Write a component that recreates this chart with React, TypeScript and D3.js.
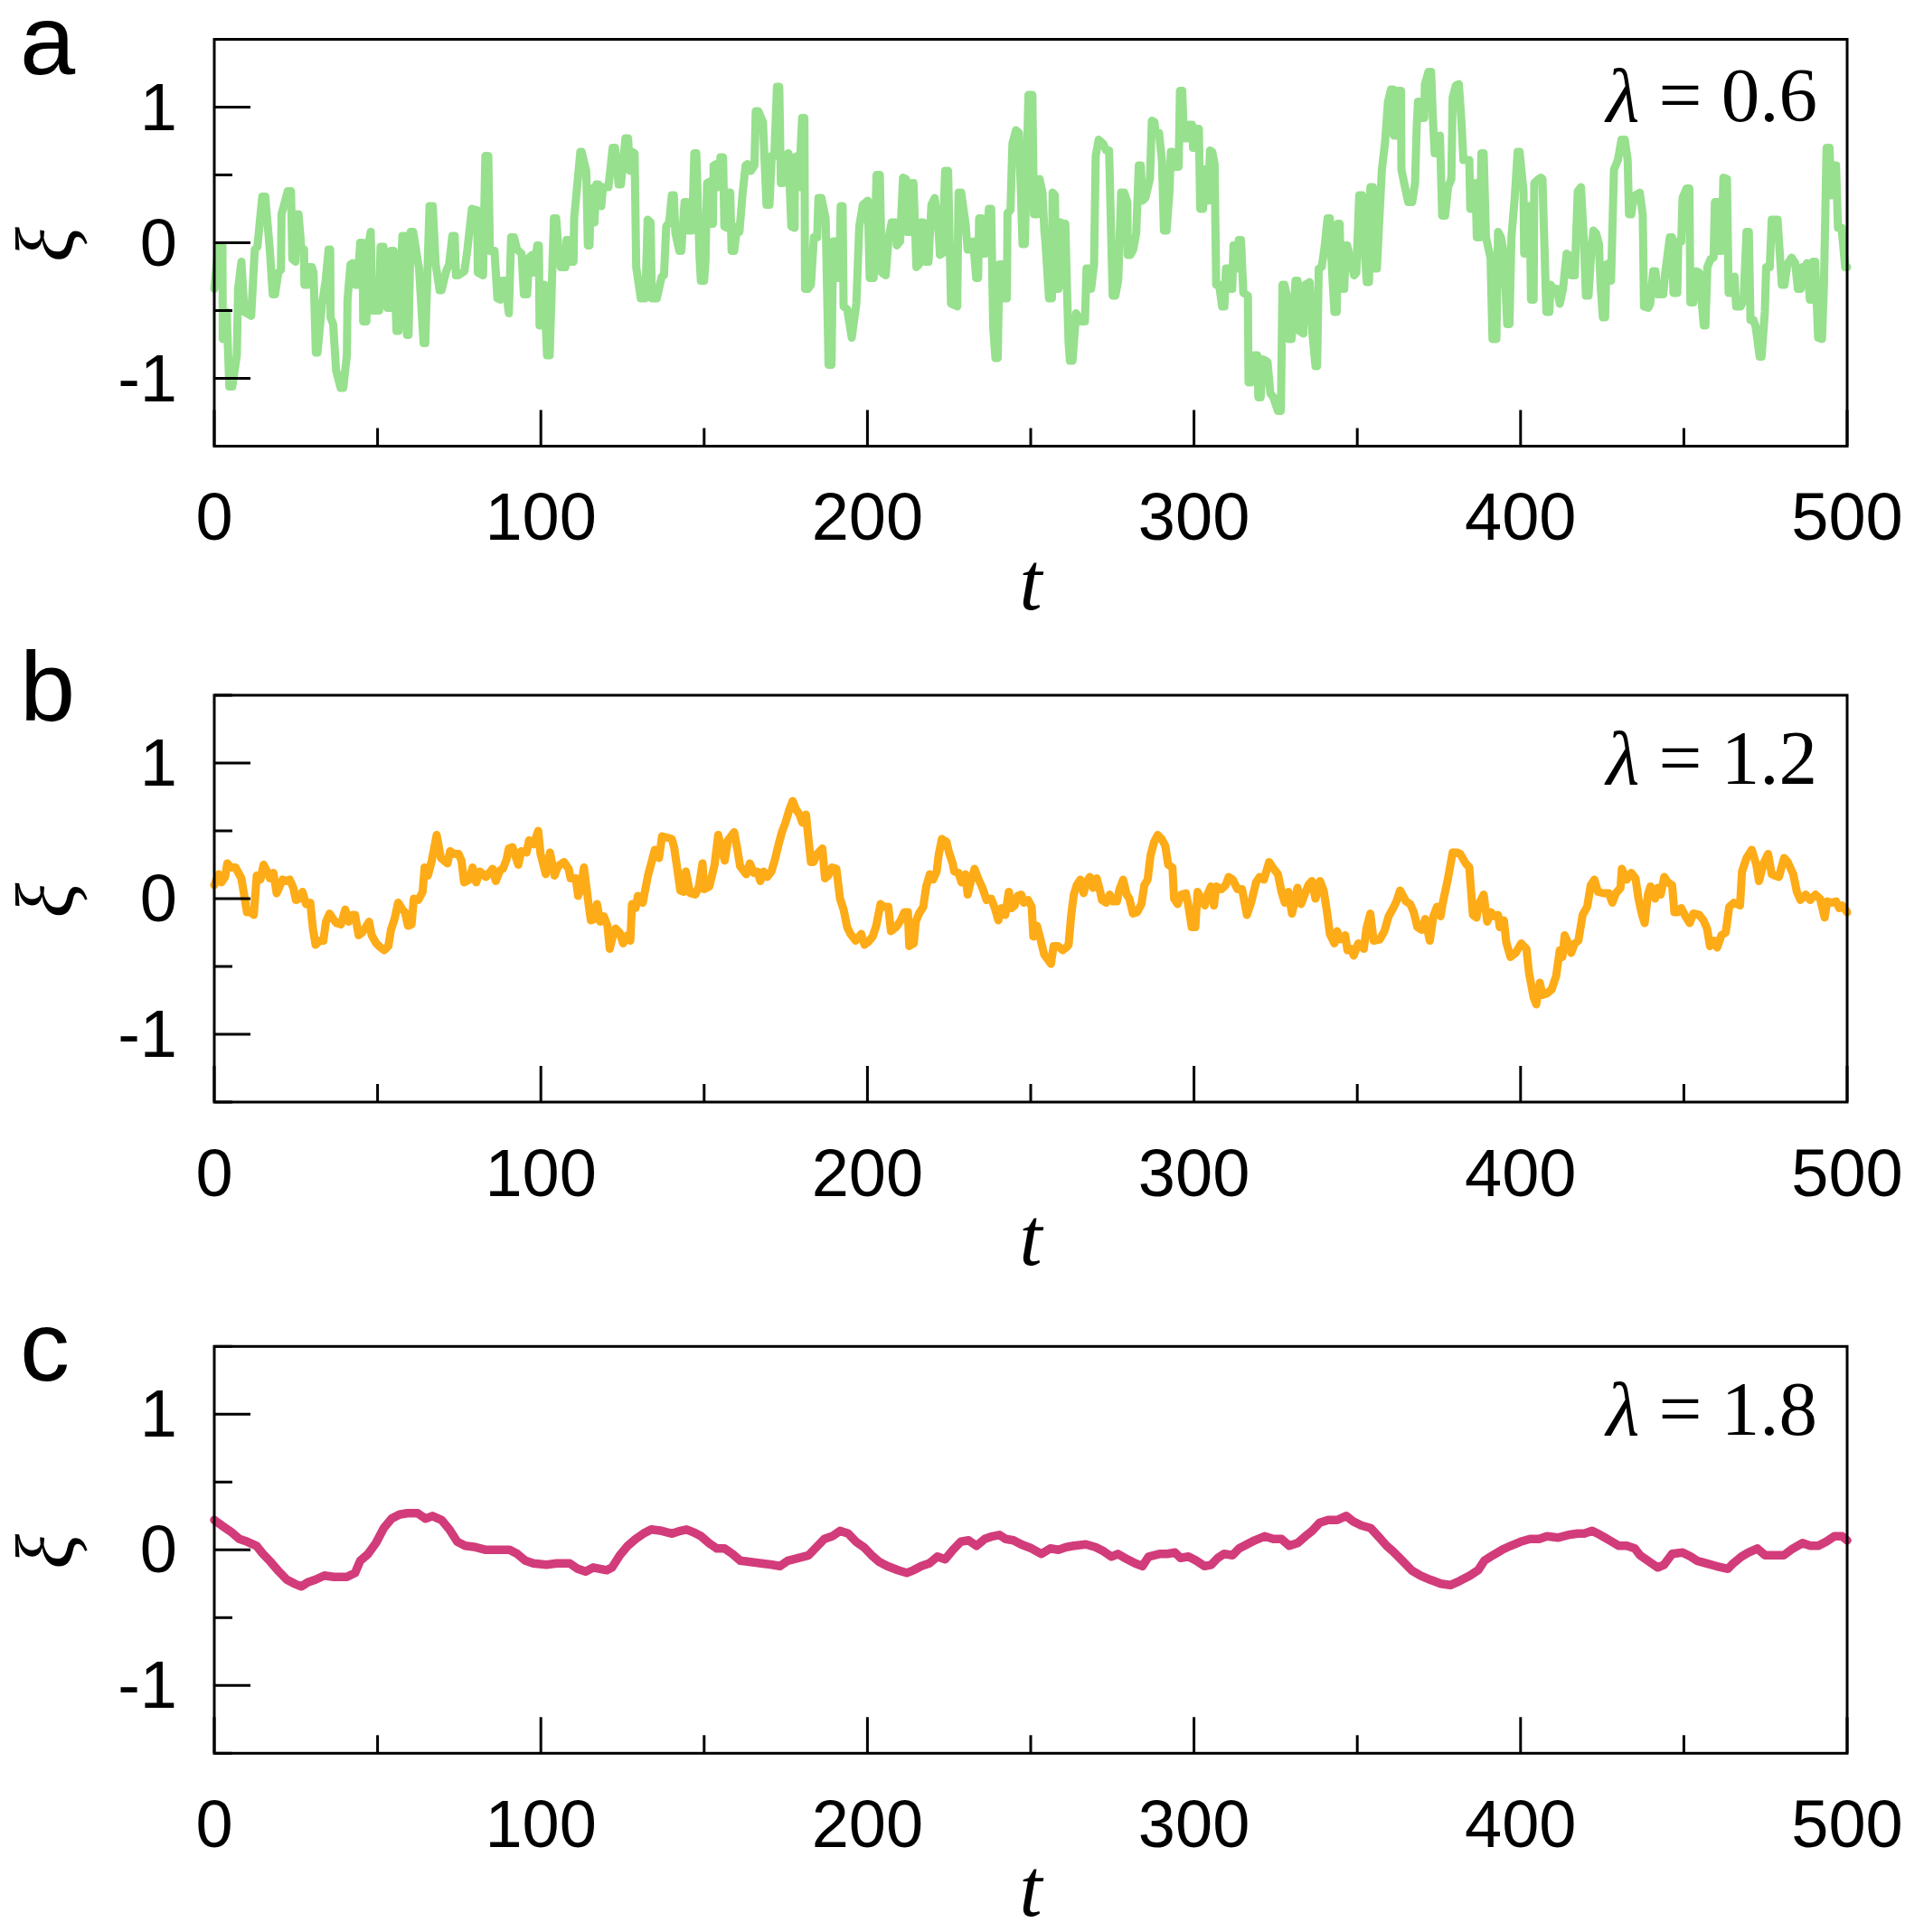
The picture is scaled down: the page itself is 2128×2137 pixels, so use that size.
import React from "react";
import * as d3 from "d3";

// ---------- layout ----------
const W = 2128;
const H = 2137;
const X0 = 237;
const X1 = 2043;
const PANEL_H = 450;
const PANEL_TOPS = [43.5, 769, 1489.3];

// ---------- axis values ----------
const tDomain: [number, number] = [0, 500];
const xiDomain: [number, number] = [-1.5, 1.5];
const tMajor = [0, 100, 200, 300, 400, 500];
const tMinor = [50, 150, 250, 350, 450];
const xiMajor = [-1, 0, 1];
const xiMinor = [-1.5, -0.5, 0.5, 1.5];
const panelLetters = ["a", "b", "c"];
const lambdas = ["0.6", "1.2", "1.8"];
const colors = ["#97e08e", "#fdab17", "#d23c7a"];

// ---------- data: [t, xi] ----------
const seriesA: [number, number][] = [
  [0,-0.34],[1.3,-0.02],[2.5,-0.02],[2.6,-0.71],[3.2,-0.71],[3.8,-0.51],[4.6,-1.06],[5.5,-1.06],[6.9,-0.83],[7.3,-0.34],
  [8.3,-0.14],[9.2,-0.51],[11.3,-0.54],[12.4,-0.05],[13.2,-0.03],[14.7,0.34],[15.6,0.34],[17,-0.05],[17.9,-0.38],[18.6,-0.38],
  [19.6,-0.22],[20.4,-0.2],[20.6,0.21],[22.5,0.38],[23.5,0.38],[23.9,-0.12],[24.9,-0.14],[25.3,0.21],[25.8,0.21],[26.7,-0.05],
  [27.5,-0.05],[27.6,-0.31],[28.6,-0.31],[29,-0.18],[29.9,-0.18],[30.4,-0.22],[31.1,-0.81],[31.6,-0.81],[33,-0.45],[34.1,-0.28],
  [35,-0.05],[35.5,-0.05],[35.6,-0.55],[36.4,-0.6],[37.3,-0.94],[38.7,-1.07],[39.5,-1.07],[40.6,-0.83],[40.8,-0.42],[41.7,-0.16],
  [42.4,-0.15],[43.3,-0.31],[43.8,-0.31],[44.7,0],[45.4,0],[45.6,-0.58],[46.6,-0.58],[47,-0.05],[47.9,0.08],[48.4,-0.5],
  [50.5,-0.5],[50.9,-0.03],[51.8,-0.03],[53,-0.48],[53.9,-0.48],[54.1,-0.06],[54.9,-0.06],[55.8,-0.65],[56.4,-0.65],[57.6,0.05],
  [58.3,0.05],[59,-0.68],[59.5,-0.68],[60.1,0.08],[60.9,0.08],[62.7,-0.19],[64.1,-0.74],[64.6,-0.74],[65.9,0.27],[66.9,0.27],
  [67.8,-0.16],[69,-0.35],[69.6,-0.35],[71,-0.21],[71.9,-0.16],[72.9,0.05],[73.6,0.05],[74,-0.24],[74.7,-0.24],[76.6,-0.21],
  [77.5,-0.05],[78.9,0.25],[80.5,0.24],[80.7,-0.22],[82.3,-0.24],[83,0.64],[83.9,0.64],[84.4,-0.06],[85.8,-0.06],[86.7,-0.41],
  [87.6,-0.42],[88.1,-0.28],[89,-0.28],[90.2,-0.52],[90.9,0.04],[91.8,0.04],[92.7,-0.05],[94.1,-0.08],[94.8,-0.38],[95.8,-0.38],
  [96.4,-0.11],[97.3,-0.09],[97.8,-0.22],[98.9,-0.02],[99.4,-0.02],[99.6,-0.61],[100.3,-0.61],[101,-0.31],[101.9,-0.83],[102.7,-0.83],
  [104,0.18],[104.7,0.18],[105.4,-0.05],[106.1,-0.18],[107.5,-0.18],[107.9,0.02],[108.6,0.02],[108.9,-0.14],[110,-0.14],[110.2,0.18],
  [112.1,0.67],[112.5,0.67],[113.9,0.53],[114.4,-0.02],[114.9,-0.02],[115.3,0.4],[116.1,0.4],[116.4,0.15],[117,0.43],[117.6,0.43],
  [118.5,0.27],[119,0.41],[120.7,0.41],[122,0.7],[122.7,0.7],[123.8,0.43],[124.5,0.43],[125.9,0.77],[126.7,0.77],[127.3,0.53],
  [128,0.67],[128.7,0.66],[129.2,-0.18],[130.6,-0.41],[132,-0.41],[132.7,0.17],[133.6,0.15],[134,-0.41],[135.5,-0.41],[137,-0.25],
  [137.7,-0.24],[138.4,0.12],[139.3,0.15],[140.1,0.35],[140.7,0.35],[141.2,0.07],[142.4,-0.06],[143,-0.06],[144,0.3],[144.7,0.3],
  [145.3,0.09],[146.3,0.09],[147,0.66],[147.6,0.66],[148.6,-0.11],[149,-0.28],[150,-0.28],[150.4,-0.14],[150.9,0.44],[151.6,0.45],
  [152,0.14],[152.7,0.14],[152.9,0.57],[153.6,0.58],[154.3,0.41],[155,0.63],[155.8,0.63],[156.2,0.12],[156.9,0.11],[157.3,0.37],
  [158,0.37],[158.4,-0.06],[159.2,-0.06],[160.1,0.12],[160.8,0.08],[161.8,0.37],[162.7,0.57],[163.3,0.58],[164.3,0.53],[165.4,0.57],
  [165.8,0.97],[166.6,0.97],[168,0.89],[169.1,0.28],[170,0.28],[170.7,0.64],[171.5,0.64],[172.3,1.15],[173,1.15],[173.5,0.44],
  [174.1,0.44],[174.9,0.64],[175.8,0.66],[176.7,0.12],[177.7,0.11],[177.8,0.63],[178.6,0.64],[179,0.41],[180,0.92],[180.7,0.92],
  [180.9,-0.34],[181.8,-0.34],[182.7,-0.31],[183.6,0.04],[184.6,0.04],[185,0.33],[185.9,0.33],[187.2,0.18],[188.1,-0.9],[189,-0.9],
  [189.5,0.01],[190.3,0.01],[191,-0.26],[191.4,-0.26],[191.8,0.27],[192.4,0.27],[192.7,-0.47],[193.8,-0.49],[195.2,-0.7],[196.6,-0.45],
  [197.5,0.12],[198.6,0.28],[200.1,0.31],[200.7,-0.26],[201.9,-0.26],[202.8,0.5],[203.8,0.5],[204.4,-0.22],[205.6,-0.24],[206.5,0.04],
  [207.4,0.15],[208.6,0.15],[209,-0.02],[210,0.01],[210.9,0.48],[211.8,0.47],[212.1,0.08],[213,0.08],[213.6,0.44],[214.1,0.44],
  [215,-0.18],[215.8,-0.16],[216.4,0.15],[217,0.15],[217.8,-0.14],[218.7,-0.14],[219.6,0.28],[220.6,0.33],[221.7,0.12],[222.2,-0.09],
  [222.9,-0.08],[223.8,0.53],[224.7,0.53],[225.6,-0.45],[227.5,-0.47],[227.9,0.37],[228.7,0.37],[230,0.15],[230.7,-0.05],[231.8,-0.05],
  [232.4,0.01],[233.3,-0.26],[233.9,-0.26],[234.2,0.18],[234.9,0.18],[235.3,-0.08],[236.1,-0.08],[237.2,0.25],[237.9,0.25],[238.5,-0.62],
  [239.2,-0.85],[239.9,-0.85],[240.4,-0.16],[241.3,-0.16],[241.8,-0.41],[242.7,-0.41],[242.9,0.22],[243.8,0.24],[244.4,0.73],[245.5,0.83],
  [246.4,0.81],[247.5,-0.01],[248.2,-0.01],[249.3,1.09],[250.5,1.09],[251,0.21],[251.9,0.21],[252.7,0.47],[253.6,0.37],[254.2,0.08],
  [254.5,0.01],[255.6,-0.41],[256.5,-0.41],[256.7,0.37],[257.4,0.35],[257.9,-0.34],[258.5,-0.34],[259.1,0.15],[259.7,-0.31],[260,0.14],
  [260.6,0.14],[261.1,-0.34],[261.6,-0.74],[262,-0.87],[262.8,-0.87],[263.9,-0.52],[265.3,-0.58],[266.6,-0.58],[267.1,-0.19],[268,-0.19],
  [268.5,-0.34],[269.4,-0.16],[269.9,0.64],[270.8,0.76],[272.2,0.73],[273.1,0.68],[274,0.68],[275.1,-0.39],[275.9,-0.39],[276.8,-0.28],
  [277.7,0.37],[278.6,0.37],[279.6,0.3],[279.7,-0.09],[280.5,-0.09],[281.4,-0.05],[282.3,0.07],[283.1,0.57],[283.7,0.57],[284.2,0.31],
  [285.1,0.33],[286.5,0.47],[287.1,0.9],[287.9,0.89],[288.3,0.8],[289.3,0.81],[290.2,0.6],[290.8,0.09],[291.6,0.09],[292.5,0.38],
  [292.9,0.67],[293.4,0.67],[294.1,0.56],[295.3,0.56],[295.7,1.12],[296.4,1.12],[296.9,0.77],[297.8,0.77],[298.5,0.87],[299.4,0.87],
  [299.7,0.7],[300.3,0.7],[300.8,0.84],[301.5,0.84],[301.9,0.25],[302.8,0.25],[303.1,0.54],[303.7,0.54],[304.3,0.31],[304.9,0.68],
  [305.6,0.67],[306.3,0.58],[306.8,-0.31],[307.7,-0.31],[308.6,-0.47],[309.3,-0.47],[309.8,-0.19],[310.5,-0.19],[310.8,-0.34],[311.7,-0.34],
  [312.1,-0.02],[312.8,-0.02],[313.2,-0.19],[313.7,0.02],[314.4,0.02],[315.1,-0.37],[316.5,-0.39],[316.7,-1.03],[317.4,-1.03],[318.5,-0.83],
  [319.4,-0.83],[319.7,-1.14],[320.4,-1.14],[321.1,-0.86],[322,-0.87],[322.5,-0.88],[323.4,-1.11],[324.3,-1.14],[325.7,-1.24],[326.6,-1.24],
  [327.1,-0.31],[327.7,-0.31],[328.9,-0.45],[329,-0.71],[329.9,-0.71],[331.1,-0.28],[331.7,-0.28],[332.2,-0.65],[333.5,-0.67],[334,-0.31],
  [335.4,-0.29],[336.3,-0.68],[337.2,-0.91],[337.7,-0.91],[338.2,-0.19],[339.1,-0.18],[340,-0.03],[340.9,0.18],[341.6,0.18],[342.3,-0.22],
  [343,-0.51],[343.7,-0.51],[344,0.14],[344.6,0.14],[345.1,-0.34],[346,-0.34],[346.5,-0.02],[346.9,-0.02],[347.9,-0.12],[349,-0.24],
  [349.7,-0.22],[350.6,0.35],[351.5,0.35],[352,0.04],[352.9,-0.29],[353.6,-0.29],[354,0.41],[354.8,0.41],[355.1,-0.19],[356,-0.19],
  [356.9,0.24],[357.5,0.53],[358.5,0.74],[359.4,1.04],[360.3,1.13],[361,1.13],[361.2,0.79],[362.2,0.79],[362.4,1.12],[363.4,1.12],
  [363.5,0.54],[364.7,0.4],[365.6,0.3],[366.8,0.3],[367.7,0.44],[368.2,0.86],[368.6,1.04],[369.5,1.04],[369.8,0.92],[370.5,0.92],
  [370.7,1.17],[371.8,1.26],[372.6,1.26],[373.2,0.89],[373.7,0.66],[374.6,0.66],[375.3,0.79],[376,0.2],[376.9,0.2],[377.8,0.41],
  [378.8,0.47],[379.2,1.07],[380.2,1.16],[381.1,1.17],[381.8,0.93],[382.5,0.61],[384.3,0.61],[384.6,0.25],[385.2,0.25],[386.2,0.44],
  [386.6,0.04],[387.6,0.04],[388,0.66],[388.7,0.66],[389.4,0.04],[390.8,-0.11],[391.4,-0.71],[392.6,-0.71],[393.1,0.08],[394,0.04],
  [394.9,-0.08],[395.9,-0.6],[396.6,-0.6],[397.2,0.04],[398.2,0.33],[399.1,0.67],[399.7,0.67],[400.9,0.38],[401.1,-0.08],[401.6,-0.08],
  [402.1,0.27],[402.8,0.27],[403.2,-0.42],[404,-0.42],[404.2,0.44],[405.5,0.47],[406.2,0.48],[406.7,0.47],[407.9,-0.51],[408.8,-0.51],
  [409.2,-0.31],[410.2,-0.34],[411.1,-0.34],[412,-0.45],[413,-0.34],[414.1,-0.08],[414.8,-0.09],[415.7,-0.24],[416.6,-0.24],[417.5,0.38],
  [418.5,0.41],[419.4,0.01],[420,-0.39],[420.8,-0.39],[421.7,-0.05],[422.3,0.09],[423.1,0.07],[424,-0.01],[424.5,-0.31],[425.2,-0.55],
  [425.9,-0.55],[426.3,-0.16],[427.2,-0.15],[427.7,-0.28],[428.6,0.54],[429.8,0.61],[430.9,0.76],[431.9,0.76],[432.8,0.61],[433.2,0.21],
  [433.9,0.21],[434.6,0.33],[435.1,0.35],[436.5,0.37],[437.4,0.21],[437.8,-0.47],[439.1,-0.48],[439.7,-0.45],[440.6,-0.21],[441.3,-0.21],
  [442,-0.38],[443.7,-0.38],[444.3,-0.22],[445.7,0.04],[446.4,0.04],[446.8,-0.37],[448,-0.37],[448.3,0.01],[449.2,0.01],[449.6,0.33],
  [450.8,0.4],[451.7,0.4],[452,-0.44],[452.9,-0.44],[453.8,-0.21],[454.7,-0.22],[456.1,-0.61],[456.6,-0.61],[457.2,-0.18],[458.2,-0.12],
  [459.1,-0.11],[459.5,0.3],[460.3,0.3],[460.9,-0.06],[461.6,-0.06],[462.1,0.48],[463.2,0.47],[463.7,-0.37],[464.6,-0.37],[465.5,-0.25],
  [466,-0.47],[467.4,-0.47],[468.3,-0.42],[469.2,0.08],[469.9,0.08],[470.4,-0.57],[471.3,-0.57],[472,-0.62],[473.2,-0.84],[473.8,-0.84],
  [474.8,-0.51],[475.2,-0.18],[476.3,-0.18],[476.9,0.17],[478.7,0.17],[480,-0.31],[480.8,-0.31],[481.7,-0.16],[483,-0.11],[484.1,-0.15],
  [484.9,-0.34],[485.8,-0.34],[486.3,-0.18],[486.8,-0.21],[487.7,-0.15],[488.6,-0.42],[489.3,-0.42],[489.5,-0.14],[490.2,-0.14],[491.1,-0.7],
  [492.3,-0.71],[492.9,-0.31],[493.7,0.7],[494.6,0.7],[495.1,0.35],[496,0.57],[496.6,0.57],[497.2,0.11],[498.3,0.11],[499.4,-0.18],[500,-0.18],
];

const seriesB: [number, number][] = [
  [0,0.1],[1.3,0.18],[2.2,0.12],[3.3,0.16],[4,0.26],[5.1,0.23],[6.5,0.23],[8.3,0.15],[10,-0.1],[11,-0.1],
  [12.1,-0.12],[13,0.17],[14.1,0.14],[15.1,0.25],[16.2,0.2],[17,0.15],[18.1,0.19],[19.1,0.04],[20.9,0.14],[22,0.13],
  [23.1,0.14],[24.2,0.08],[25,-0.01],[26.1,0],[27,0.05],[28.1,-0.04],[29.4,-0.03],[30.2,-0.22],[31,-0.34],[32.4,-0.31],
  [33.4,-0.31],[34.2,-0.17],[35.3,-0.11],[36.4,-0.15],[37.4,-0.18],[38.8,-0.19],[40.1,-0.08],[41.2,-0.17],[42.3,-0.12],[43.1,-0.12],
  [44.2,-0.27],[45.3,-0.25],[46.4,-0.21],[47.4,-0.17],[48.2,-0.27],[49.6,-0.33],[50.9,-0.36],[52,-0.38],[53.3,-0.35],[54.1,-0.23],
  [55.2,-0.15],[56.3,-0.03],[57.6,-0.08],[58.4,-0.1],[59.3,-0.2],[60.4,-0.19],[61.1,0],[62.5,-0.01],[63.8,0.05],[64.4,0.23],
  [65.4,0.17],[66.5,0.27],[68.1,0.47],[69.4,0.3],[71.4,0.26],[72.2,0.35],[73.5,0.33],[74.8,0.33],[75.7,0.28],[76.5,0.12],
  [78,0.14],[79.1,0.23],[80.2,0.12],[81.3,0.2],[83.2,0.16],[85.2,0.22],[86.2,0.13],[87.5,0.21],[88.4,0.22],[89.5,0.29],
  [90.2,0.37],[91.3,0.38],[93.1,0.25],[94,0.35],[95.6,0.34],[96.4,0.43],[97.8,0.4],[99.2,0.5],[99.9,0.33],[101.5,0.18],
  [102.8,0.34],[104.2,0.17],[105.3,0.24],[107.1,0.27],[108.5,0.22],[109.1,0.15],[110.7,0.15],[111.4,0.02],[112.3,0.08],[113.2,0.23],
  [114.5,-0.02],[115.3,-0.16],[116.4,-0.15],[117.2,-0.04],[118.2,-0.17],[119.3,-0.13],[120.4,-0.2],[121.1,-0.37],[122,-0.28],[122.9,-0.22],
  [124.1,-0.25],[125.2,-0.33],[126.5,-0.27],[127.4,-0.31],[127.9,-0.04],[129,-0.07],[129.7,0.02],[131.2,-0.03],[132.8,0.17],[133.8,0.26],
  [134.9,0.36],[136.2,0.3],[137.1,0.46],[138.7,0.45],[140.1,0.44],[140.8,0.38],[141.6,0.25],[142.7,0.06],[143.8,0.05],[144.4,0.2],
  [145.7,0.04],[147.3,0.03],[148.4,0.09],[149.5,0.26],[150,0.07],[151.6,0.09],[153.2,0.25],[154.3,0.47],[156.3,0.28],[157.3,0.43],
  [159.2,0.49],[160.2,0.36],[161,0.24],[162.9,0.18],[164,0.26],[165.2,0.19],[166.3,0.2],[167.2,0.13],[168.2,0.2],[169.3,0.16],
  [170.6,0.2],[171.7,0.29],[172.8,0.4],[173.8,0.49],[174.9,0.56],[176,0.65],[177.1,0.72],[178.1,0.66],[179.2,0.62],[180.1,0.56],
  [181.2,0.62],[181.9,0.45],[182.7,0.27],[183.5,0.27],[184.6,0.33],[186.2,0.37],[187,0.15],[188,0.17],[189.1,0.23],[190.5,0.22],
  [191.6,0],[192.7,-0.08],[193.8,-0.21],[194.8,-0.26],[196.4,-0.31],[198.1,-0.26],[199.1,-0.34],[200.2,-0.32],[201.6,-0.28],[202.7,-0.2],
  [204,-0.04],[205.1,-0.06],[206.4,-0.06],[207.2,-0.24],[208.8,-0.21],[210.2,-0.16],[211.3,-0.1],[212.4,-0.1],[212.8,-0.35],[214.2,-0.33],
  [214.8,-0.17],[215.8,-0.11],[217.1,-0.06],[218,0.09],[219.1,0.18],[220.1,0.14],[221.2,0.2],[221.8,0.32],[222.8,0.44],[224.2,0.42],
  [225,0.34],[226.1,0.26],[226.6,0.2],[227.9,0.19],[228.8,0.12],[230,0.18],[230.7,0.03],[231.8,0.14],[232.8,0.22],[233.9,0.15],
  [235.2,0.08],[236.5,-0.01],[237.9,0],[239,-0.07],[240.1,-0.16],[241.1,-0.07],[242.2,-0.12],[243.3,0.05],[244.1,-0.07],[245.1,-0.05],
  [246,0.02],[247.1,0.03],[247.9,-0.03],[249.2,-0.01],[250.3,-0.06],[250.8,-0.28],[251.9,-0.2],[253,-0.3],[254.1,-0.41],[256.2,-0.48],
  [257,-0.35],[258.4,-0.35],[259.8,-0.38],[260.9,-0.36],[261.6,-0.34],[262.4,-0.12],[263.2,0.03],[264.1,0.1],[265.2,0.14],[266.2,0.04],
  [267,0.12],[268.1,0.16],[269.1,0.08],[270.2,0.15],[271.3,0.05],[271.8,-0.01],[273.1,-0.03],[274.2,0.03],[275.1,-0.02],[276.4,-0.02],
  [277.2,0.07],[278.3,0.14],[279.4,0.03],[280.2,0],[281.3,-0.11],[282.6,-0.1],[283.9,-0.04],[284.8,0.1],[285.8,0.14],[286.7,0.32],
  [287.8,0.42],[288.9,0.47],[290.1,0.44],[291.2,0.39],[292.1,0.25],[293.4,0.23],[293.9,0],[295,-0.04],[296.1,0.03],[297.5,0.04],
  [298.2,-0.04],[299.3,-0.21],[300.4,-0.21],[301.1,0.05],[302.2,0],[303.3,-0.05],[304.1,0.03],[305.2,0.09],[306.1,-0.05],[306.8,0.09],
  [308.4,0.07],[309.7,0.1],[310.6,0.16],[311.9,0.14],[313.3,0.07],[314.7,0.07],[316.2,-0.12],[317.6,-0.02],[319,0.12],[320.1,0.16],
  [321.4,0.14],[323,0.27],[324.1,0.23],[325.7,0.18],[326.8,0.05],[327.8,-0.03],[328.9,0.05],[330,-0.11],[331,0],[331.7,0.08],
  [332.8,-0.04],[333.9,0.03],[335,0.1],[336.1,0.13],[337.2,0],[338.6,0.13],[339.7,0.06],[340.8,-0.11],[341.6,-0.26],[343,-0.33],
  [343.8,-0.24],[344.9,-0.3],[346.3,-0.27],[347,-0.38],[348.1,-0.37],[348.9,-0.42],[350.3,-0.33],[352,-0.37],[352.8,-0.22],[354,-0.11],
  [355,-0.31],[356.9,-0.3],[358.3,-0.24],[359.6,-0.13],[361,-0.07],[362,-0.02],[363.1,0.06],[364.9,-0.02],[366.2,-0.04],[367.3,-0.1],
  [368.4,-0.21],[369.7,-0.23],[370.8,-0.15],[372.2,-0.31],[373.3,-0.13],[374.4,-0.06],[375.5,-0.13],[376.1,-0.04],[377.7,0.14],[379.2,0.34],
  [380.5,0.34],[381.5,0.33],[383.2,0.26],[384.3,0.23],[385.4,-0.12],[386.5,-0.14],[387.2,-0.04],[388.7,0.03],[389.8,-0.17],[390.9,-0.1],
  [392,-0.13],[393.1,-0.12],[393.6,-0.21],[394.9,-0.16],[395.6,-0.32],[396.9,-0.43],[398.5,-0.4],[400.2,-0.33],[401.8,-0.37],[402.6,-0.55],
  [404,-0.73],[404.8,-0.78],[405.9,-0.62],[406.7,-0.71],[408,-0.7],[409.5,-0.67],[410.9,-0.57],[412,-0.38],[412.8,-0.43],[413.5,-0.27],
  [414.6,-0.33],[415.5,-0.4],[416.6,-0.33],[417.7,-0.31],[419,-0.12],[420.4,-0.06],[421.5,0.1],[422.6,0.14],[423.7,0.05],[425.4,0.04],
  [427,0.04],[428.1,-0.03],[429.2,0.04],[430.6,0.08],[431,0.22],[432.5,0.14],[433.9,0.19],[435.2,0.15],[436.1,0],[437.2,-0.12],
  [438,-0.18],[439,0.03],[439.8,0.09],[441.2,0],[442,0.08],[442.9,0.03],[444,0.16],[445.1,0.12],[446.4,0.1],[447.1,-0.1],
  [448.1,-0.1],[449.2,-0.07],[450.5,-0.13],[451.8,-0.18],[452.9,-0.11],[454.7,-0.12],[456,-0.16],[457.1,-0.22],[458,-0.35],[459.3,-0.31],
  [460.2,-0.36],[461.5,-0.27],[462.8,-0.25],[463.9,-0.06],[465.3,-0.03],[467.2,-0.05],[467.8,0.2],[469.2,0.3],[470.8,0.36],[472.2,0.25],
  [473,0.13],[474.4,0.26],[475.8,0.33],[476.9,0.18],[477.8,0.17],[479.1,0.16],[480.7,0.3],[481.8,0.27],[483.5,0.18],[484.6,0.05],
  [485.7,-0.01],[487.3,0.03],[488.7,-0.01],[490.3,0.03],[491.7,0],[493.1,-0.14],[493.9,-0.02],[495.3,-0.03],[496.6,-0.02],[497.6,-0.07],
  [498.5,-0.05],[500,-0.1],
];

const seriesC: [number, number][] = [
  [0,0.22],[2.9,0.17],[5.3,0.13],[7.7,0.08],[10.1,0.06],[12.9,0.03],[14.9,-0.03],[17.3,-0.09],[19.8,-0.16],[22.2,-0.22],
  [24.6,-0.25],[26.7,-0.27],[28.6,-0.24],[31,-0.22],[33.7,-0.19],[36.6,-0.2],[40.6,-0.2],[43.1,-0.17],[44.7,-0.08],[47.1,-0.03],
  [49.5,0.05],[51.9,0.16],[54.3,0.23],[56.7,0.26],[59.1,0.27],[62.3,0.27],[64.7,0.23],[66.8,0.25],[69.6,0.22],[72,0.15],
  [74.4,0.06],[76.8,0.03],[80,0.02],[83.2,0],[88,0],[90.4,0],[92.8,-0.03],[95.3,-0.08],[97.7,-0.1],[101.7,-0.11],
  [104.9,-0.1],[108.9,-0.1],[111.3,-0.14],[113.7,-0.16],[116.1,-0.13],[120.2,-0.15],[121.8,-0.13],[124.2,-0.04],[126.6,0.03],[129,0.08],
  [131.4,0.12],[133.8,0.15],[137,0.14],[140.2,0.12],[142.7,0.14],[144.6,0.15],[146.7,0.13],[149.1,0.1],[151.5,0.05],[153.9,0.01],
  [156.3,0.01],[158.7,-0.03],[161.1,-0.08],[164.3,-0.09],[167.5,-0.1],[170.8,-0.11],[173.2,-0.12],[175.6,-0.08],[178.8,-0.06],[182,-0.04],
  [184.4,0.02],[186.8,0.08],[189.2,0.1],[191.6,0.14],[194.1,0.12],[196.5,0.06],[198.9,0.02],[201.3,-0.04],[203.7,-0.09],[206.1,-0.12],
  [209.3,-0.15],[212,-0.17],[214.1,-0.15],[216.5,-0.12],[218.9,-0.1],[221.4,-0.05],[223.8,-0.07],[226.2,0],[228.6,0.06],[231,0.07],
  [233.4,0.03],[235.9,0.08],[238.3,0.1],[240.4,0.11],[242.3,0.08],[244.7,0.07],[247.1,0.04],[250.3,0.01],[253.3,-0.03],[256,0.01],
  [258.5,0],[260.9,0.02],[263.3,0.03],[266.9,0.04],[269.8,0.02],[272.3,-0.01],[274.7,-0.05],[276.7,-0.03],[279.6,-0.07],[282,-0.1],
  [284.2,-0.12],[286.1,-0.05],[289.4,-0.03],[291.8,-0.03],[294.2,-0.02],[295.9,-0.06],[298.3,-0.05],[300.7,-0.08],[303.2,-0.12],[305.3,-0.11],
  [307.3,-0.06],[309.2,-0.03],[311.8,-0.04],[313.8,0.01],[316.2,0.04],[318.6,0.07],[321.6,0.1],[324.3,0.08],[326.8,0.08],[329.2,0.03],
  [331.7,0.05],[334.1,0.1],[336.2,0.14],[338.5,0.2],[341.1,0.22],[343.9,0.22],[346.6,0.25],[348.7,0.21],[351.2,0.18],[354.1,0.16],
  [356.4,0.1],[359,0.03],[360.9,-0.01],[363.4,-0.07],[366.6,-0.15],[369.4,-0.19],[372.3,-0.22],[375.6,-0.25],[378.5,-0.26],[381.3,-0.23],
  [384.5,-0.19],[387,-0.15],[388.9,-0.08],[391.5,-0.04],[394.3,0],[397,0.03],[400,0.06],[402.9,0.08],[405.7,0.08],[408.1,0.1],
  [411.4,0.09],[414.6,0.11],[417.5,0.12],[419.5,0.12],[421.9,0.14],[424.4,0.11],[427.3,0.07],[430.1,0.03],[432.5,0.03],[435,0.01],
  [436.6,-0.04],[439,-0.08],[442,-0.13],[443.9,-0.11],[446.4,-0.03],[449.6,-0.02],[452.1,-0.05],[454,-0.08],[457,-0.1],[459.9,-0.12],
  [463.5,-0.14],[465.1,-0.1],[467.6,-0.05],[469.7,-0.02],[472.5,0.01],[474.9,-0.04],[478.1,-0.04],[480.6,-0.04],[483.4,0.01],[486.3,0.05],
  [488.7,0.03],[491.2,0.03],[493.6,0.06],[496.1,0.1],[498.5,0.1],[500,0.07],
];

const allSeries = [seriesA, seriesB, seriesC];
const lineWidths = [9, 9, 9.5];
const lambdaBaselineOffset = [90.5, 97.5, 97.5];
const letterBaselineOffset = [38.5, 28, 38];

const SANS = "'Liberation Sans', Arial, sans-serif";
const SERIF = "'Liberation Serif', 'Times New Roman', serif";

const x = d3.scaleLinear().domain(tDomain).range([X0, X1]);

function Panel({ idx }: { idx: number }) {
  const top = PANEL_TOPS[idx];
  const bottom = top + PANEL_H;
  const y = d3.scaleLinear().domain(xiDomain).range([bottom, top]);
  const line = d3
    .line<[number, number]>()
    .x((d) => x(d[0]))
    .y((d) => y(d[1]));
  const path = line(allSeries[idx]) || "";
  const tick = { stroke: "#000", strokeWidth: 3 };
  return (
    <g>
      <path
        d={path}
        fill="none"
        stroke={colors[idx]}
        strokeWidth={lineWidths[idx]}
        strokeLinejoin="round"
        strokeLinecap="round"
      />
      {tMajor.map((t) => (
        <line key={"xM" + t} x1={x(t)} x2={x(t)} y1={bottom} y2={bottom - 40} {...tick} />
      ))}
      {tMinor.map((t) => (
        <line key={"xm" + t} x1={x(t)} x2={x(t)} y1={bottom} y2={bottom - 20} {...tick} />
      ))}
      {xiMajor.map((v) => (
        <line key={"yM" + v} x1={X0} x2={X0 + 40} y1={y(v)} y2={y(v)} {...tick} />
      ))}
      {xiMinor.map((v) => (
        <line key={"ym" + v} x1={X0} x2={X0 + 20} y1={y(v)} y2={y(v)} {...tick} />
      ))}
      <rect x={X0} y={top} width={X1 - X0} height={PANEL_H} fill="none" stroke="#000" strokeWidth={3} />
      {tMajor.map((t) => (
        <text
          key={"xl" + t}
          x={x(t)}
          y={bottom + 103.5}
          textAnchor="middle"
          fontFamily={SANS}
          fontSize={74}
          fill="#000"
        >
          {t}
        </text>
      ))}
      {xiMajor.map((v) => (
        <text
          key={"yl" + v}
          x={196}
          y={y(v) + 25}
          textAnchor="end"
          fontFamily={SANS}
          fontSize={74}
          fill="#000"
        >
          {v}
        </text>
      ))}
      <text
        x={(X0 + X1) / 2}
        y={bottom + 180}
        textAnchor="middle"
        fontFamily={SERIF}
        fontStyle="italic"
        fontSize={90}
        fill="#000"
      >
        t
      </text>
      <text
        transform={`translate(81, ${y(0) + 2}) rotate(-90)`}
        textAnchor="middle"
        fontFamily={SERIF}
        fontStyle="italic"
        fontSize={90}
        fill="#000"
      >
        ξ
      </text>
      <text
        x={2010}
        y={top + lambdaBaselineOffset[idx]}
        textAnchor="end"
        fontFamily={SERIF}
        fontSize={85}
        fill="#000"
      >
        <tspan fontStyle="italic">λ</tspan>
        <tspan> = {lambdas[idx]}</tspan>
      </text>
      <text
        x={22}
        y={top + letterBaselineOffset[idx]}
        fontFamily={SANS}
        fontSize={110}
        fill="#000"
      >
        {panelLetters[idx]}
      </text>
    </g>
  );
}

export default function App() {
  return (
    <svg
      width={W}
      height={H}
      viewBox={`0 0 ${W} ${H}`}
      style={{ position: "absolute", left: 0, top: 0, display: "block", background: "#fff" }}
    >
      <rect x={0} y={0} width={W} height={H} fill="#fff" />
      {[0, 1, 2].map((i) => (
        <Panel key={i} idx={i} />
      ))}
    </svg>
  );
}
